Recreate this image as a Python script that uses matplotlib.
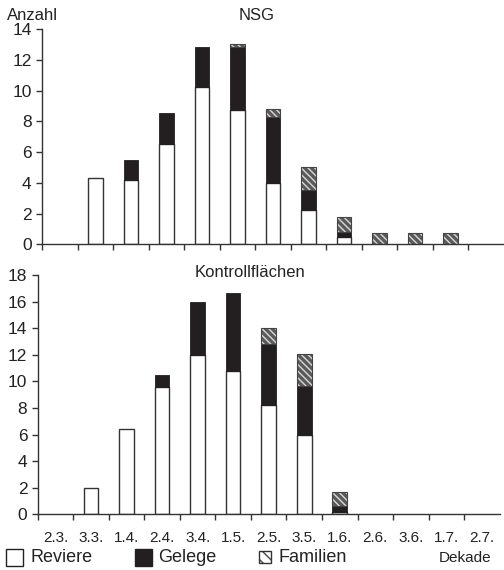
import matplotlib
matplotlib.use("Agg")
import matplotlib.pyplot as plt
from matplotlib.patches import Rectangle
import numpy as np

plt.rcParams["font.family"] = ["Liberation Sans", "DejaVu Sans"]
plt.rcParams["hatch.linewidth"] = 1.0

# Dekaden (x categories)
dekaden = ["2.3.", "3.3.", "1.4.", "2.4.", "3.4.", "1.5.", "2.5.",
           "3.5.", "1.6.", "2.6.", "3.6.", "1.7.", "2.7."]

# NSG
nsg_reviere = [0, 4.3, 4.2, 6.5, 10.25, 8.75, 4.0, 2.25, 0.5, 0, 0, 0, 0]
nsg_gelege = [0, 0, 1.3, 2.05, 2.55, 4.1, 4.25, 1.25, 0.3, 0, 0, 0, 0]
nsg_familien = [0, 0, 0, 0, 0, 0.2, 0.55, 1.55, 1.0, 0.75, 0.75, 0.75, 0]

# Kontrollflächen
kf_reviere = [0, 2.0, 6.4, 9.6, 12.0, 10.8, 8.2, 6.0, 0.15, 0, 0, 0, 0]
kf_gelege = [0, 0, 0, 0.85, 4.0, 5.85, 4.6, 3.65, 0.5, 0, 0, 0, 0]
kf_familien = [0, 0, 0, 0, 0, 0, 1.25, 2.4, 1.0, 0, 0, 0, 0]

W, H = 504, 570
fig = plt.figure(figsize=(W / 100, H / 100), dpi=100)

dark = "#231f20"
hatch_face = "#5a5a5a"


def draw_panel(ax, rev, gel, fam, ymax):
    x = np.arange(len(dekaden)) + 0.5
    rev = np.array(rev)
    gel = np.array(gel)
    fam = np.array(fam)
    w = 0.41
    m = rev > 0
    ax.bar(x[m], rev[m], w, color="white", edgecolor="#333333", linewidth=1.0)
    m = gel > 0
    ax.bar(x[m], gel[m], w, bottom=rev[m], color=dark, edgecolor=dark, linewidth=0.6)
    m = fam > 0
    ax.bar(x[m], fam[m], w, bottom=(rev + gel)[m], color=hatch_face,
           edgecolor="#d8d8d8", hatch="\\\\\\\\\\", linewidth=0)
    ax.bar(x[m], fam[m], w, bottom=(rev + gel)[m], color="none",
           edgecolor="#444444", linewidth=0.8)
    ax.set_xlim(0, len(dekaden))
    ax.set_ylim(0, ymax)
    ax.set_yticks(np.arange(0, ymax + 1, 2))
    ax.set_xticks(np.arange(0, len(dekaden)))
    ax.spines["top"].set_visible(False)
    ax.spines["right"].set_visible(False)
    for s in ("left", "bottom"):
        ax.spines[s].set_color("#333333")
        ax.spines[s].set_linewidth(1.0)
    ax.tick_params(axis="both", direction="out", length=4, width=1.0,
                   color="#333333", labelsize=12.5, labelcolor="#222222")
    ax.patch.set_alpha(0)
    return x


ax1 = fig.add_axes([42 / W, 1 - 244.3 / H, 462 / W, (244.3 - 29) / H])
draw_panel(ax1, nsg_reviere, nsg_gelege, nsg_familien, 14)
ax1.set_xticklabels([])

ax2 = fig.add_axes([37.7 / W, 1 - 514.3 / H, 462 / W, (514.3 - 275) / H])
x2 = draw_panel(ax2, kf_reviere, kf_gelege, kf_familien, 18)
ax2.set_xticks(x2, minor=True)
ax2.set_xticklabels([])
ax2.set_xticklabels(dekaden, minor=True)
ax2.tick_params(axis="x", which="minor", length=0, pad=12, labelsize=11,
                labelcolor="#222222")

fig.text(7 / W, 1 - 15 / H, "Anzahl", fontsize=12, ha="left", va="center", color="#222222")
fig.text(256.7 / W, 1 - 15 / H, "NSG", fontsize=12, ha="center", va="center", color="#222222")
fig.text(250 / W, 1 - 272.7 / H, "Kontrollflächen", fontsize=12, ha="center",
         va="center", color="#222222")

# legend
ly = 1 - 557.7 / H
fig.add_artist(Rectangle((6 / W, 1 - 566 / H), 17 / W, 17 / H, transform=fig.transFigure,
                         facecolor="white", edgecolor="#222222", linewidth=1.0))
fig.add_artist(Rectangle((135 / W, 1 - 566 / H), 17 / W, 17 / H, transform=fig.transFigure,
                         facecolor=dark, edgecolor=dark, linewidth=1.0))
fig.add_artist(Rectangle((259 / W, 1 - 563 / H), 12 / W, 12 / H, transform=fig.transFigure,
                         facecolor="white", edgecolor="#444444", hatch="\\\\\\",
                         linewidth=0))
fig.add_artist(Rectangle((259 / W, 1 - 563 / H), 12 / W, 12 / H, transform=fig.transFigure,
                         facecolor="none", edgecolor="#333333", linewidth=1.0))
fig.text(30 / W, ly, "Reviere", fontsize=13, ha="left", va="center", color="#222222")
fig.text(158 / W, ly, "Gelege", fontsize=13, ha="left", va="center", color="#222222")
fig.text(279 / W, ly, "Familien", fontsize=13, ha="left", va="center", color="#222222")
fig.text(491 / W, ly, "Dekade", fontsize=11, ha="right", va="center", color="#222222")

fig.savefig("out.png", dpi=100)
